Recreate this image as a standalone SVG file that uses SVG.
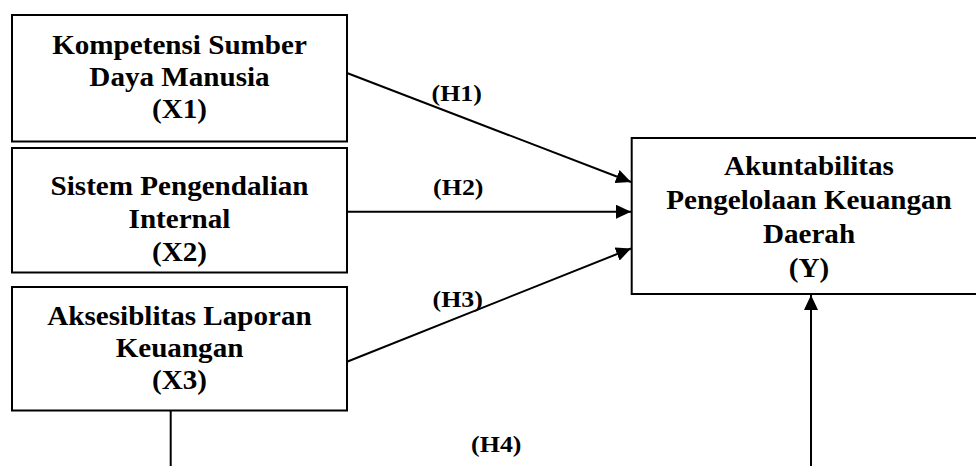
<svg xmlns="http://www.w3.org/2000/svg" width="976" height="466" viewBox="0 0 976 466">
<defs>
<style>
.box{fill:#fff;stroke:#000;stroke-width:2}
.t{font-family:"Liberation Serif","Times New Roman",serif;font-weight:bold;font-size:28px;fill:#000;text-anchor:middle}
.h{font-family:"Liberation Serif","Times New Roman",serif;font-weight:bold;font-size:24px;fill:#000;text-anchor:middle}
.ln{stroke:#000;stroke-width:2;fill:none}
</style>
<marker id="ah" markerUnits="userSpaceOnUse" markerWidth="16" markerHeight="14" refX="15" refY="7" orient="auto">
<path d="M0,0 L15,7 L0,14 Z" fill="#000"/>
</marker>
</defs>
<rect width="976" height="466" fill="#fff"/>
<g id="connectors">
<line class="ln" x1="347" y1="73" x2="631" y2="182" marker-end="url(#ah)"/>
<line class="ln" x1="347" y1="211.7" x2="631" y2="211.7" marker-end="url(#ah)"/>
<line class="ln" x1="347" y1="361.7" x2="631" y2="248.5" marker-end="url(#ah)"/>
<line class="ln" x1="170.7" y1="411" x2="170.7" y2="466"/>
<line class="ln" x1="811" y1="466" x2="811" y2="295" marker-end="url(#ah)"/>
<text class="h" transform="translate(456.7,101) scale(1.08,1)">(H1)</text>
<text class="h" transform="translate(458.3,195) scale(1.08,1)">(H2)</text>
<text class="h" transform="translate(457.7,306.7) scale(1.08,1)">(H3)</text>
<text class="h" transform="translate(496.3,451.7) scale(1.08,1)">(H4)</text>
</g>
<g id="x1">
<rect class="box" x="12" y="15" width="335" height="126.5"/>
<text class="t" transform="translate(179.5,54) scale(1.04,1)">Kompetensi Sumber</text>
<text class="t" transform="translate(179.5,86) scale(1.04,1)">Daya Manusia</text>
<text class="t" transform="translate(179.5,117.5) scale(1.04,1)">(X1)</text>
</g>
<g id="x2">
<rect class="box" x="12" y="148" width="335" height="124.5"/>
<text class="t" transform="translate(179.5,195) scale(1.04,1)">Sistem Pengendalian</text>
<text class="t" transform="translate(179.5,228) scale(1.04,1)">Internal</text>
<text class="t" transform="translate(179.5,261) scale(1.04,1)">(X2)</text>
</g>
<g id="x3">
<rect class="box" x="12" y="287" width="335" height="123.5"/>
<text class="t" transform="translate(179.5,325) scale(1.04,1)">Aksesiblitas Laporan</text>
<text class="t" transform="translate(179.5,357) scale(1.04,1)">Keuangan</text>
<text class="t" transform="translate(179.5,388.5) scale(1.04,1)">(X3)</text>
</g>
<g id="y">
<rect class="box" x="631.7" y="138" width="360" height="156"/>
<text class="t" transform="translate(809,175) scale(1.04,1)">Akuntabilitas</text>
<text class="t" transform="translate(809,209.3) scale(1.04,1)">Pengelolaan Keuangan</text>
<text class="t" transform="translate(809,243.3) scale(1.04,1)">Daerah</text>
<text class="t" transform="translate(809,277) scale(1.04,1)">(Y)</text>
</g>
</svg>
